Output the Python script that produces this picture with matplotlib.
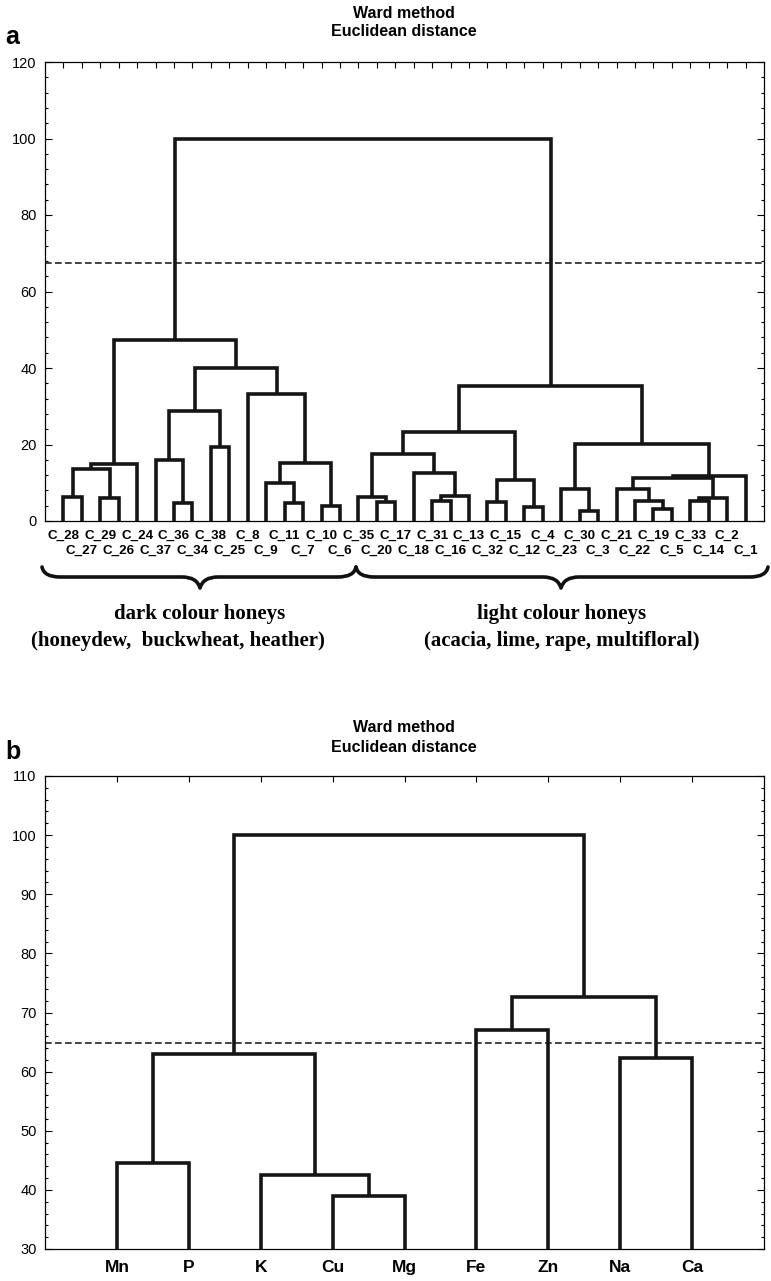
import matplotlib
matplotlib.use("Agg")
import matplotlib.pyplot as plt
from matplotlib.path import Path
from matplotlib.patches import PathPatch
from matplotlib.ticker import MultipleLocator

# ---------------- data: panel a (honey samples) ----------------
leaves_a = ["C_28", "C_27", "C_29", "C_26", "C_24", "C_37", "C_36", "C_34", "C_38", "C_25",
            "C_8", "C_9", "C_11", "C_7", "C_10", "C_6", "C_35", "C_20", "C_17", "C_18",
            "C_31", "C_16", "C_13", "C_32", "C_15", "C_12", "C_4", "C_23", "C_30", "C_3",
            "C_21", "C_22", "C_19", "C_5", "C_33", "C_14", "C_2", "C_1"]
# linkage (scipy style ids: < n leaf index, >= n earlier merge)
merge_a_left = [0, 2, 38, 40, 6, 5, 8, 43, 12, 11, 14, 47, 10, 45, 41,
                17, 16, 20, 55, 19, 54, 23, 25, 59, 58,
                28, 27, 32, 31, 30, 34, 68, 67, 70, 64, 62, 52]
merge_a_right = [1, 3, 39, 4, 7, 42, 9, 44, 13, 46, 15, 48, 49, 50, 51,
                 18, 53, 21, 22, 56, 57, 24, 26, 60, 61,
                 29, 63, 33, 65, 66, 35, 36, 69, 37, 71, 72, 73]
merge_a_height = [6.2, 6.0, 13.6, 14.8, 4.8, 15.9, 19.3, 28.8, 4.6, 9.9, 3.9, 15.2, 33.3, 39.9, 47.3,
                  5.0, 6.2, 5.2, 6.6, 12.5, 17.4, 5.0, 3.6, 10.7, 23.3,
                  2.7, 8.3, 3.1, 5.2, 8.4, 5.2, 6.1, 11.2, 11.8, 20.1, 35.4, 100.0]
cut_a = 67.4

# ---------------- data: panel b (elements) ----------------
leaves_b = ["Mn", "P", "K", "Cu", "Mg", "Fe", "Zn", "Na", "Ca"]
merge_b_left = [3, 2, 0, 11, 5, 7, 13, 12]
merge_b_right = [4, 9, 1, 10, 6, 8, 14, 15]
merge_b_height = [39.0, 42.5, 44.5, 63.0, 67.0, 62.3, 72.7, 100.0]
cut_b = 64.8

group_names = ["dark colour honeys", "light colour honeys"]
group_desc = ["(honeydew,  buckwheat, heather)", "(acacia, lime, rape, multifloral)"]

W, H = 771, 1281
fig = plt.figure(figsize=(W / 100, H / 100), dpi=100)

TICK_FONT = dict(family=["Liberation Sans", "DejaVu Sans"], size=10.5)
LBL_FONT = dict(family=["Liberation Sans", "DejaVu Sans"], weight="bold")


def px_axes(l, t, r, b):
    return fig.add_axes([l / W, 1 - b / H, (r - l) / W, (b - t) / H])


def draw_dendro(ax, leaves, left, right, height):
    n = len(leaves)
    pos = {i: i + 1.0 for i in range(n)}
    hh = {i: 0.0 for i in range(n)}
    for k, (a, b, z) in enumerate(zip(left, right, height)):
        xa, xb = pos[a], pos[b]
        ax.plot([xa, xa, xb, xb], [hh[a], z, z, hh[b]], color="#151515", lw=2.6,
                solid_joinstyle="miter", solid_capstyle="butt", zorder=3)
        pos[n + k] = (xa + xb) / 2
        hh[n + k] = z


def style_axes(ax, n, ymin, ymax, major, minor):
    ax.set_xlim(0, n + 1)
    ax.set_ylim(ymin, ymax)
    ax.set_xticks(range(1, n + 1))
    ax.set_xticklabels([])
    ax.yaxis.set_major_locator(MultipleLocator(major))
    ax.yaxis.set_minor_locator(MultipleLocator(minor))
    ax.tick_params(which="both", direction="in", top=True, right=True, bottom=True, left=True,
                   width=0.8, colors="black")
    ax.tick_params(which="major", length=5, pad=6)
    ax.tick_params(which="minor", length=2.5)
    ax.tick_params(axis="x", which="major", length=4)
    for s in ax.spines.values():
        s.set_linewidth(0.9)
    for lab in ax.get_yticklabels():
        lab.set_fontfamily(TICK_FONT["family"])
        lab.set_fontsize(TICK_FONT["size"])


# ---------------- panel a ----------------
axa = px_axes(45, 62, 764, 521)
draw_dendro(axa, leaves_a, merge_a_left, merge_a_right, merge_a_height)
style_axes(axa, len(leaves_a), 0, 120, 20, 4)
axa.axhline(cut_a, color="#222222", lw=1.2, ls=(0, (4, 2)), zorder=2)
for i, name in enumerate(leaves_a):
    off = 15 if i % 2 == 0 else 30
    axa.annotate(name, xy=(i + 1, 0), xycoords="data", xytext=(0, -off), textcoords="offset pixels",
                 ha="center", va="center", fontsize=9.6, **LBL_FONT)
fig.text(404 / W, 1 - 13 / H, "Ward method", ha="center", va="center", fontsize=11.5, **LBL_FONT)
fig.text(404 / W, 1 - 31 / H, "Euclidean distance", ha="center", va="center", fontsize=11.5, **LBL_FONT)
fig.text(5 / W, 1 - 37 / H, "a", ha="left", va="center", fontsize=18, **LBL_FONT)

# ---------------- panel b ----------------
axb = px_axes(45, 776, 764, 1249)
draw_dendro(axb, leaves_b, merge_b_left, merge_b_right, merge_b_height)
style_axes(axb, len(leaves_b), 30, 110, 10, 2)
axb.axhline(cut_b, color="#222222", lw=1.2, ls=(0, (4, 2)), zorder=2)
axb.set_xticklabels(leaves_b, fontsize=12.5, **LBL_FONT)
axb.tick_params(axis="x", which="major", pad=8)
fig.text(404 / W, 1 - 728 / H, "Ward method", ha="center", va="center", fontsize=11.5, **LBL_FONT)
fig.text(404 / W, 1 - 747 / H, "Euclidean distance", ha="center", va="center", fontsize=11.5, **LBL_FONT)
fig.text(5 / W, 1 - 752 / H, "b", ha="left", va="center", fontsize=18, **LBL_FONT)

# ---------------- braces and group captions (figure pixel overlay) ----------------
ov = fig.add_axes([0, 0, 1, 1], facecolor="none")
ov.set_xlim(0, W)
ov.set_ylim(H, 0)
ov.axis("off")


def brace(x0, x1, xm, ytop, ymid, ytip, r=18):
    verts = [(x0, ytop), (x0 + 2, ymid), (x0 + r, ymid),
             (xm - r, ymid), (xm - 3, ymid), (xm, ytip),
             (xm + 3, ymid), (xm + r, ymid),
             (x1 - r, ymid), (x1 - 2, ymid), (x1, ytop)]
    codes = [Path.MOVETO, Path.CURVE3, Path.CURVE3,
             Path.LINETO, Path.CURVE3, Path.CURVE3,
             Path.CURVE3, Path.CURVE3,
             Path.LINETO, Path.CURVE3, Path.CURVE3]
    ov.add_patch(PathPatch(Path(verts, codes), fill=False, lw=2.6, color="#111111",
                           capstyle="round", joinstyle="round"))


brace(42, 356, 200, 567, 577, 588)
brace(356, 768, 561, 567, 577, 588)
SERIF = dict(family=["Liberation Serif", "DejaVu Serif"], weight="bold", size=15)
ov.text(200, 614, group_names[0], ha="center", va="center", **SERIF)
ov.text(178, 641, group_desc[0], ha="center", va="center", **SERIF)
ov.text(562, 614, group_names[1], ha="center", va="center", **SERIF)
ov.text(562, 641, group_desc[1], ha="center", va="center", **SERIF)

fig.savefig("out.png", dpi=100)
